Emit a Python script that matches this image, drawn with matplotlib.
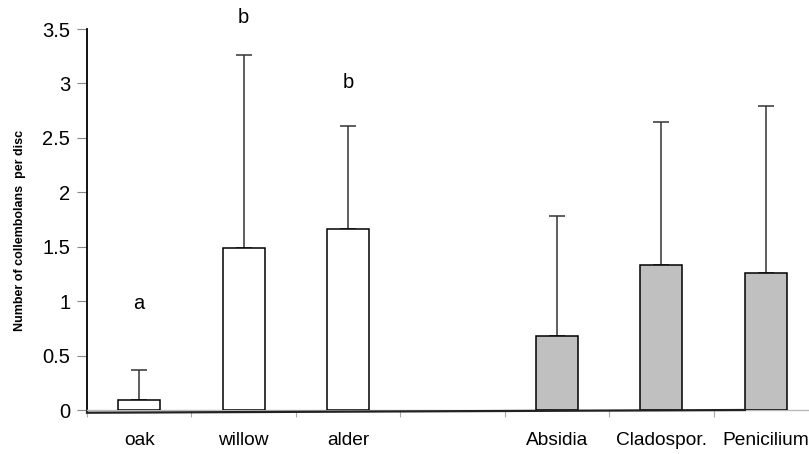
import numpy as np
import matplotlib
matplotlib.use("Agg")
import matplotlib.pyplot as plt
import matplotlib.ticker as ticker

# ── Data ───────────────────────────────────────────────────────────────────
categories = ["oak", "willow", "alder", "", "Absidia", "Cladospor.", "Penicilium"]
means      = [0.09, 1.49, 1.66, np.nan, 0.68, 1.33, 1.26]
sd_upper   = [0.28, 1.77, 0.95, np.nan, 1.10, 1.32, 1.53]
group      = ["tree", "tree", "tree", None, "fungus", "fungus", "fungus"]
letters    = ["a", "b", "b"]
letter_y   = [0.98, 3.61, 3.01]

GROUP_COLORS = {"tree": "white", "fungus": "#C0C0C0"}

plt.rcParams.update({
    "font.family": ["Liberation Sans", "DejaVu Sans"],
    "axes.spines.top": False,
    "axes.spines.right": False,
})

fig = plt.figure(figsize=(8.09, 4.54), dpi=100)
ax = fig.add_axes([87 / 809, 1 - 410 / 454, 731 / 809, 381 / 454])

x = np.arange(len(categories))
bar_w = 0.40

for xi, m, e, g in zip(x, means, sd_upper, group):
    if g is None:
        continue
    ax.bar(xi, m, width=bar_w, color=GROUP_COLORS[g], edgecolor="black",
           linewidth=1.1, zorder=3)
    ax.errorbar(xi, m, yerr=[[0], [e]], fmt="none", ecolor="#333333",
                elinewidth=1.1, capsize=5.5, capthick=1.1, zorder=2)

for xi, lab, ly in zip(x, letters, letter_y):
    ax.text(xi, ly, lab, ha="center", va="center", fontsize=14.5, clip_on=False)

# dark baseline drawn under the bars (slightly skewed in the original)
ax.plot([-0.5, x[-1] - bar_w / 2], [-0.025, 0.0], color="#222222",
        linewidth=1.6, clip_on=False, zorder=4)

ax.set_xlim(-0.5, len(categories) - 0.5)
ax.set_ylim(0, 3.5)
ax.yaxis.set_major_locator(ticker.MultipleLocator(0.5))
ax.yaxis.set_major_formatter(ticker.FuncFormatter(lambda v, p: f"{v:g}"))
ax.tick_params(axis="y", direction="out", length=7, width=0.8, color="#888888",
               labelsize=14.5, pad=5)

ax.set_xticks(x)
ax.set_xticklabels(categories)
ax.set_xticks(np.arange(len(categories) + 1) - 0.5, minor=True)
ax.tick_params(axis="x", which="major", length=0, labelsize=13.8, pad=16)
ax.tick_params(axis="x", which="minor", length=5, width=0.8, color="#aaaaaa")

ax.spines["left"].set_linewidth(1.3)
ax.spines["left"].set_bounds(-0.015, 3.5)
ax.spines["bottom"].set_color("#bbbbbb")
ax.spines["bottom"].set_linewidth(1.0)

ax.set_ylabel("Number of collembolans  per disc", fontsize=9, fontweight="bold")
ax.yaxis.set_label_coords(-0.0835, 0.472)

fig.savefig("out.png", dpi=100)
